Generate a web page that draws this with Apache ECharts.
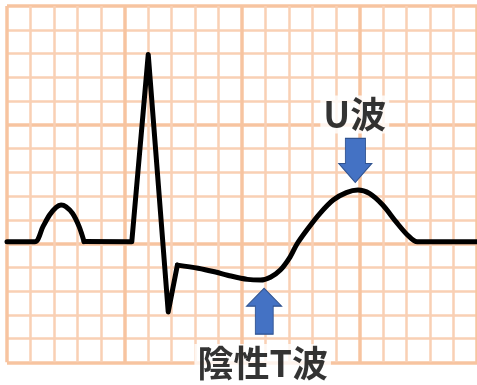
<!DOCTYPE html>
<html>
<head>
<meta charset="utf-8">
<script src="https://cdn.jsdelivr.net/npm/echarts@6/dist/echarts.min.js"></script>
<style>
html,body{margin:0;padding:0;background:#fff;}
#chart{width:477px;height:385px;}
</style>
</head>
<body>
<div id="chart"></div>
<script>
// ECG trace, in small-grid units (1 unit = one small square)
const ecgX = [0, 1.18, 1.53, 1.81, 2.09, 2.30, 2.51, 2.79, 3.07, 3.28, 5.31, 6.01, 6.86, 7.25, 8.13, 8.83, 9.53, 10.23, 10.79, 11.21, 11.63, 12.05, 12.34, 12.76, 13.32, 13.88, 14.44, 14.93, 15.42, 15.99, 16.55, 17.04, 17.46, 20];
const ecgY = [5.07, 5.07, 5.71, 6.20, 6.52, 6.62, 6.55, 6.27, 5.71, 5.08, 5.07, 12.96, 2.12, 4.09, 3.96, 3.81, 3.63, 3.49, 3.46, 3.58, 3.88, 4.44, 4.98, 5.57, 6.27, 6.83, 7.14, 7.25, 7.11, 6.62, 5.92, 5.36, 5.07, 5.07];
// index ranges of the trace: P wave (curved), QRS (sharp), ST-T-U (curved)
const segments = [[0, 9, 0.3], [9, 13, 0], [13, 33, 0.3]];

// Annotations
const labelTexts = ['U波', '陰性T波'];
const labelX = [14.80, 10.88];
const labelY = [10.43, -0.03];
const arrowDirs = ['down', 'up'];
const arrowX = [14.82, 10.94];
const arrowY = [8.50, 2.15];

const downArrow = 'path://M20,0 L81,0 L81,57 L100,57 L50,100 L0,57 L20,57 Z';
const upArrow = 'path://M50,0 L100,39 L76,39 L76,100 L25,100 L25,39 L0,39 Z';

const chart = echarts.init(document.getElementById('chart'), null, {renderer: 'canvas'});

const axisCommon = {
  type: 'value',
  interval: 5,
  axisLine: {show: false},
  axisTick: {show: false},
  axisLabel: {show: false},
  splitLine: {show: true, lineStyle: {color: '#F7C4A0', width: 3.5}},
  minorTick: {show: false, splitNumber: 5},
  minorSplitLine: {show: true, lineStyle: {color: '#F9D0B4', width: 2.5}}
};

const pts = ecgX.map((x, i) => [x, ecgY[i]]);
const lineSeries = segments.map(([a, b, s]) => ({
  type: 'line',
  data: pts.slice(a, b + 1),
  showSymbol: false,
  symbol: 'none',
  smooth: s,
  lineStyle: {color: '#000', width: 5, join: 'round', cap: 'round'},
  z: 3
}));

chart.setOption({
  backgroundColor: '#ffffff',
  animation: false,
  grid: {left: 7, top: 6, width: 475, height: 356.25, containLabel: false},
  xAxis: Object.assign({}, axisCommon, {min: 0, max: 20}),
  yAxis: Object.assign({}, axisCommon, {min: 0, max: 15}),
  series: lineSeries.concat([
    {
      type: 'scatter',
      clip: false,
      data: arrowX.map((x, i) => ({
        value: [x, arrowY[i]],
        symbol: arrowDirs[i] === 'down' ? downArrow : upArrow,
        symbolSize: arrowDirs[i] === 'down' ? [33, 44] : [35, 46]
      })),
      itemStyle: {color: '#4472C4', borderColor: '#2F528F', borderWidth: 1, opacity: 1},
      z: 4
    },
    {
      type: 'scatter',
      clip: false,
      symbolSize: 0,
      data: labelX.map((x, i) => ({value: [x, labelY[i]], name: labelTexts[i]})),
      label: {
        show: true,
        position: 'inside',
        formatter: p => p.name,
        fontFamily: '"Noto Sans CJK JP", sans-serif',
        fontWeight: 'bold',
        fontSize: 36,
        color: '#000',
        backgroundColor: '#fff',
        padding: [2, 3, 0, 3]
      },
      z: 5
    }
  ])
});
</script>
</body>
</html>
